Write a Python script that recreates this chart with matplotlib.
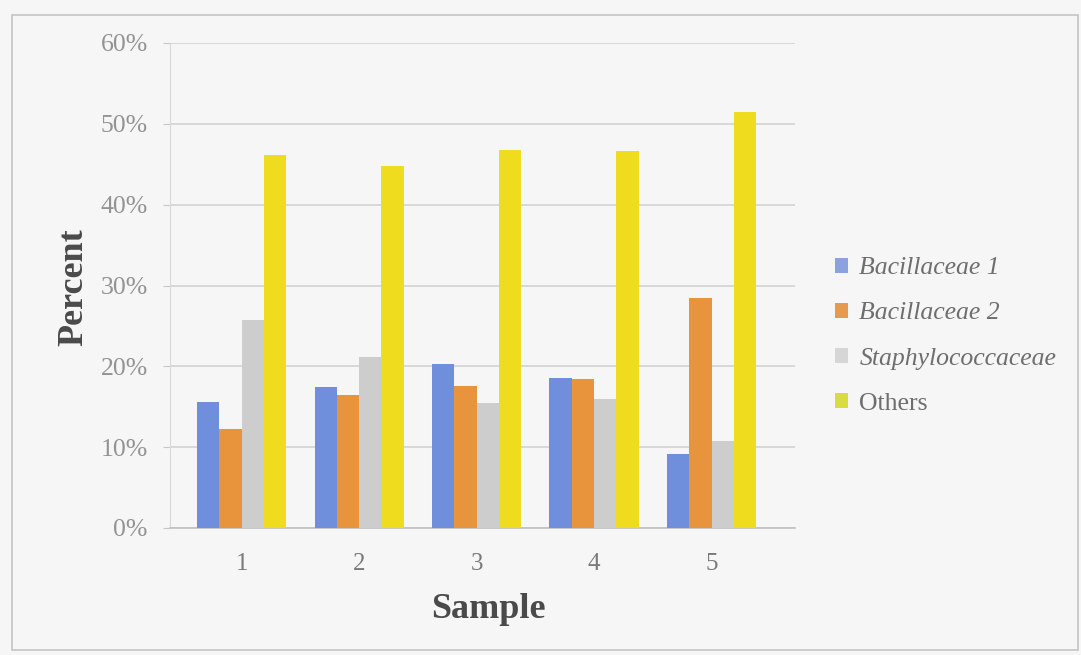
import matplotlib
matplotlib.use("Agg")
import matplotlib.pyplot as plt
import numpy as np
from matplotlib.patches import Rectangle, Patch
from matplotlib.ticker import PercentFormatter

samples = ["1", "2", "3", "4", "5"]
series_names = ["Bacillaceae 1", "Bacillaceae 2", "Staphylococcaceae", "Others"]
bacillaceae1 = [15.6, 17.5, 20.3, 18.6, 9.1]
bacillaceae2 = [12.3, 16.5, 17.6, 18.4, 28.5]
staphylococcaceae = [25.7, 21.2, 15.5, 16.0, 10.8]
others = [46.1, 44.8, 46.8, 46.6, 51.5]
yticks = [0, 10, 20, 30, 40, 50, 60]

colors = ["#6f8fdd", "#e8943c", "#cdcdcd", "#f0dc1e"]
legend_colors = ["#8ba2de", "#e59a50", "#d6d6d6", "#d8dc40"]

plt.rcParams['font.family'] = ['Liberation Serif', 'DejaVu Serif']

W, H = 1081, 655
fig = plt.figure(figsize=(W / 100, H / 100), dpi=100, facecolor="#f6f6f6")

# outer frame
fig.patches.append(Rectangle((12 / W, 1 - 650 / H), (1078 - 12) / W, (650 - 15) / H,
                             transform=fig.transFigure, fill=False,
                             edgecolor="#c4c4c4", linewidth=1.2))

ax = fig.add_axes([170 / W, 127 / H, 625 / W, 485 / H])
ax.set_facecolor("#f6f6f6")

x = np.arange(len(samples))
bw = 0.19
data = [bacillaceae1, bacillaceae2, staphylococcaceae, others]
for i, (vals, c) in enumerate(zip(data, colors)):
    ax.bar(x + (i - 1.5) * bw, vals, width=bw, color=c, linewidth=0, zorder=3)

ax.set_xlim(-0.61, 4.71)
ax.set_ylim(0, 60)
ax.set_yticks(yticks)
ax.yaxis.set_major_formatter(PercentFormatter(decimals=0))
ax.set_xticks(x)
ax.set_xticklabels(samples)

ax.grid(axis="y", color="#d0d0d0", linewidth=1.1, zorder=0)
ax.set_axisbelow(True)
for s in ["top", "right"]:
    ax.spines[s].set_visible(False)
ax.spines["left"].set_color("#d8d8d8")
ax.spines["bottom"].set_color("#c0c0c0")
ax.spines["bottom"].set_linewidth(1.2)

ax.tick_params(axis="y", length=5, color="#c8c8c8", pad=11, labelsize=18.5, labelcolor="#939393")
ax.tick_params(axis="x", length=0, pad=18, labelsize=18, labelcolor="#7a7a7a")

ax.set_ylabel("Percent", fontsize=26, fontweight="bold", color="#4a4a4a")
ax.yaxis.set_label_coords(-0.128, 0.497)
ax.set_xlabel("Sample", fontsize=26, fontweight="bold", color="#4a4a4a")
ax.xaxis.set_label_coords(0.509, -0.133)

handles = [Patch(facecolor=c, edgecolor="none") for c in legend_colors]
leg = fig.legend(handles, series_names, loc="center left",
                 bbox_to_anchor=(835 / W, 1 - 336 / H), frameon=False,
                 fontsize=18.5, handlelength=0.5, handleheight=0.5,
                 handletextpad=0.45, labelspacing=0.9, borderpad=0, borderaxespad=0)
for i, t in enumerate(leg.get_texts()):
    t.set_color("#6e6e6e")
    if i < 3:
        t.set_fontstyle("italic")

fig.savefig("out.png", dpi=100, facecolor=fig.get_facecolor())
